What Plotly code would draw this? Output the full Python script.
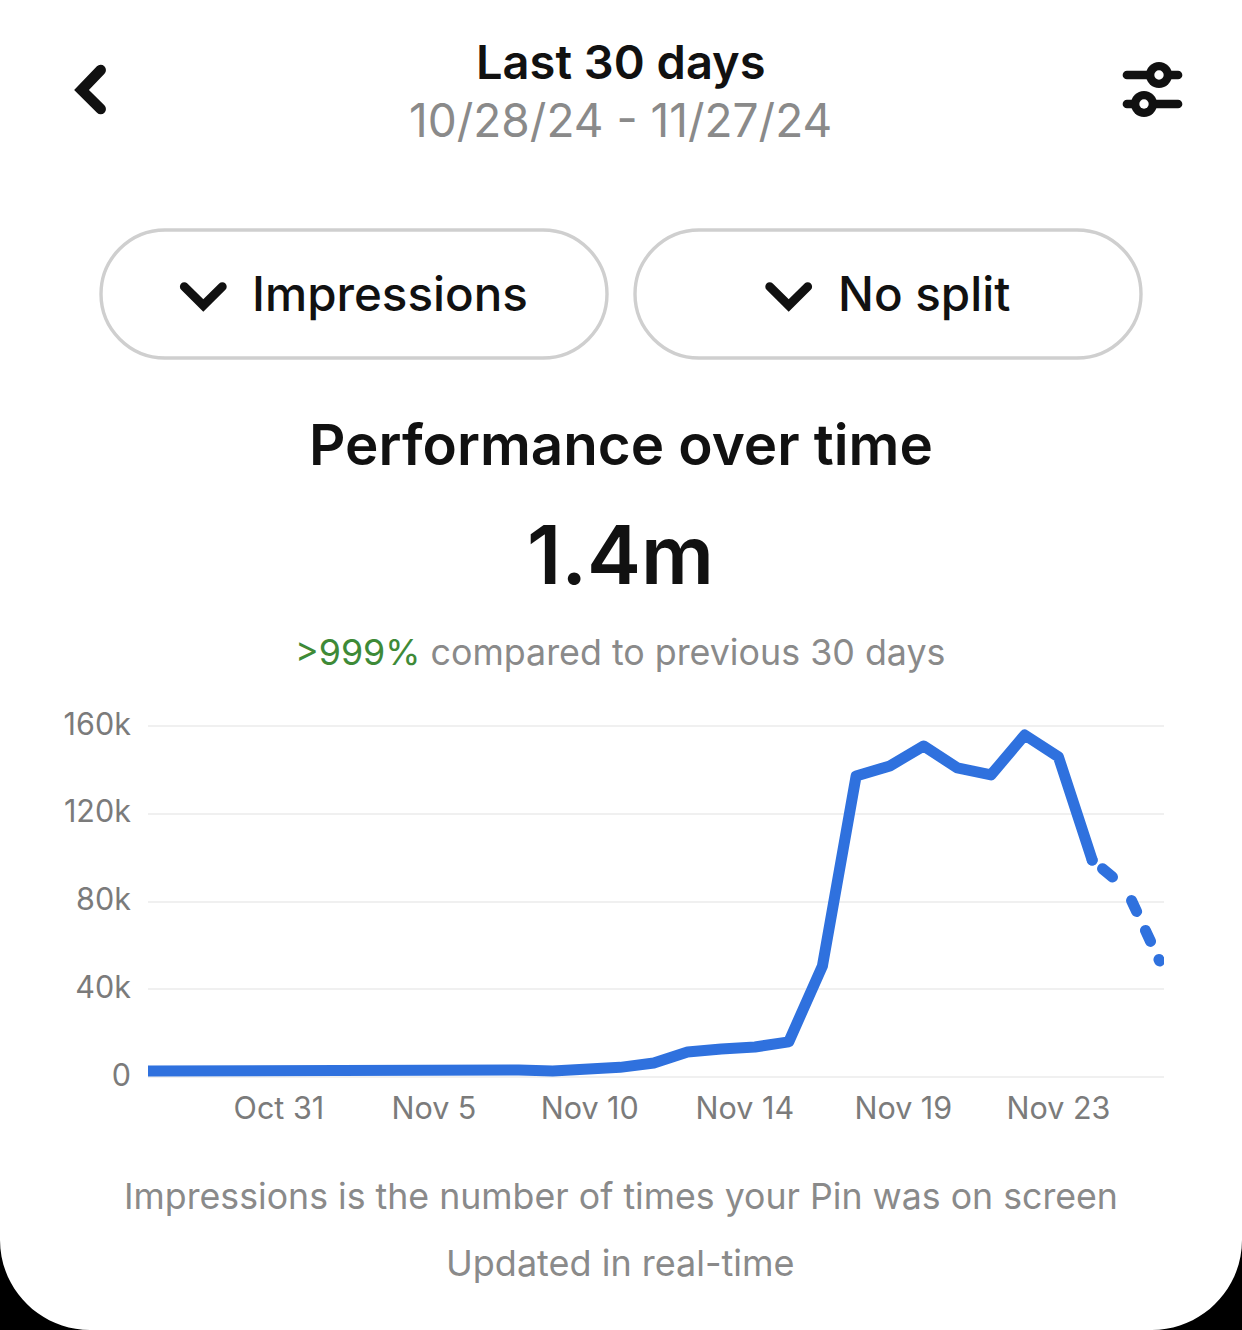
import plotly.graph_objects as go

W, H = 1242, 1330
days = list(range(31))
date_ticks = ["Oct 31", "Nov 5", "Nov 10", "Nov 14", "Nov 19", "Nov 23"]
date_tick_pos = [3.88, 8.48, 13.1, 17.7, 22.4, 27.0]
confirmed = [2700, 2800, 3000, 3500, 3500, 3400, 3400, 3700, 4100, 3900, 3650, 3200, 2750, 3300, 4400,
             6400, 11400, 12800, 13700, 16000, 50600, 137200, 141800, 150900, 140900, 137700, 155900,
             145900, 98900]
estimated = [98900, 86000, 52900]
y_ticks = [0, 40000, 80000, 120000, 160000]
y_labels = ["0", "40k", "80k", "120k", "160k"]

FONT = "Inter, 'Open Sans', sans-serif"
INK = "#111111"
GREY = "#8a8a8a"
BLUE = "#2f71de"


def px(x): return x / W
def py(y): return 1 - y / H


def path(points):
    return "M" + " L".join(f"{px(x)},{py(y)}" for x, y in points)


def pill(x0, y0, x1, y1):
    r = (y1 - y0) / 2
    k = r * 0.45
    s = f"M{px(x0+r)},{py(y0)} L{px(x1-r)},{py(y0)} "
    s += f"C{px(x1-k)},{py(y0)} {px(x1)},{py(y0+k)} {px(x1)},{py(y0+r)} "
    s += f"C{px(x1)},{py(y1-k)} {px(x1-k)},{py(y1)} {px(x1-r)},{py(y1)} "
    s += f"L{px(x0+r)},{py(y1)} "
    s += f"C{px(x0+k)},{py(y1)} {px(x0)},{py(y1-k)} {px(x0)},{py(y0+r)} "
    s += f"C{px(x0)},{py(y0+k)} {px(x0+k)},{py(y0)} {px(x0+r)},{py(y0)} Z"
    return s


def corner(xc, sign):
    r = 90
    k = r * 0.45
    return (f"M{px(xc)},{py(H-r)} C{px(xc)},{py(H-k)} {px(xc+sign*k)},{py(H)} {px(xc+sign*r)},{py(H)} "
            f"L{px(xc)},{py(H)} Z")


shapes = []
def stroke(points, width, color=INK):
    shapes.append(dict(type="path", xref="paper", yref="paper", path=path(points),
                       line=dict(color=color, width=width), layer="above"))

def circle(cx, cy, r, fill):
    shapes.append(dict(type="circle", xref="paper", yref="paper",
                       x0=px(cx - r), x1=px(cx + r), y0=py(cy + r), y1=py(cy - r),
                       fillcolor=fill, line=dict(width=0), layer="above"))

stroke([(100.7, 70), (81.5, 90), (100.7, 109)], 10.5)
stroke([(1127, 75), (1178, 75)], 8.7)
stroke([(1127, 104), (1178, 104)], 8.7)
circle(1159, 75, 13, INK)
circle(1159, 75, 4.7, "#ffffff")
circle(1144, 104, 13, INK)
circle(1144, 104, 4.7, "#ffffff")
for x0, x1, cx in [(101, 607, 203.3), (635, 1141, 788.7)]:
    shapes.append(dict(type="path", xref="paper", yref="paper", path=pill(x0, 230, x1, 358),
                       line=dict(color="#cfcfcf", width=3.4), layer="above"))
    stroke([(cx - 19, 286.7), (cx, 305.5), (cx + 19, 286.7)], 8.8)
for xc, sign in [(0, 1), (W, -1)]:
    shapes.append(dict(type="path", xref="paper", yref="paper", path=corner(xc, sign),
                       fillcolor="#000000", line=dict(width=0), layer="above"))


def text(s, x, y, size, color, weight=400):
    return dict(text=s, xref="paper", yref="paper", x=px(x), y=py(y), xanchor="center", yanchor="middle",
                showarrow=False, font=dict(family=FONT, size=size, color=color, weight=weight))


annotations = [
    text("Last 30 days", 621, 62, 47, INK, 600),
    text("10/28/24 - 11/27/24", 620, 119.5, 46, GREY),
    text("Impressions", 390, 293.5, 47.5, INK, 500),
    text("No split", 924, 293.5, 47.5, INK, 500),
    text("Performance over time", 621, 444.5, 56.5, INK, 600),
    text("1.4m", 620, 555, 81, INK, 600),
    text("<span style='color:#3e8a37'>&gt;999%</span> compared to previous 30 days", 620, 652, 35.8, GREY),
    text("Impressions is the number of times your Pin was on screen", 620.5, 1196, 35.7, GREY),
    text("Updated in real-time", 620.5, 1263, 36, GREY),
]

fig = go.Figure()
fig.add_trace(go.Scatter(x=days[:29], y=confirmed, mode="lines", showlegend=False, hoverinfo="skip",
                         line=dict(color=BLUE, width=11)))
fig.add_trace(go.Scatter(x=days[28:], y=estimated, mode="lines", showlegend=False, hoverinfo="skip",
                         line=dict(color=BLUE, width=11,
                                   dash="0px,13.5px,13px,31px,12px,21px,12px,20px,12px,20px")))
fig.update_layout(
    template="none",
    width=W, height=H, autosize=False,
    margin=dict(l=0, r=0, t=0, b=0, pad=0, autoexpand=False),
    paper_bgcolor="#ffffff", plot_bgcolor="#ffffff",
    font=dict(family=FONT),
    showlegend=False,
    shapes=shapes, annotations=annotations,
    xaxis=dict(domain=[px(148), px(1164)], range=[0, 30.13], tickmode="array", automargin=False,
               tickvals=date_tick_pos, ticktext=date_ticks, showgrid=False, zeroline=False,
               ticks="outside", ticklen=2, tickcolor="rgba(0,0,0,0)", showline=False,
               tickfont=dict(family=FONT, size=30.5, color="#7b7b7b")),
    yaxis=dict(domain=[py(1079), py(724)], range=[-912, 160912], tickmode="array", automargin=False,
               tickvals=y_ticks, ticktext=y_labels, showgrid=True, gridcolor="#f0f0f0", gridwidth=2,
               zeroline=False, ticks="outside", ticklen=10, tickcolor="rgba(0,0,0,0)", showline=False,
               ticklabelshift=-2,
               tickfont=dict(family=FONT, size=30.5, color="#7b7b7b")),
)

post = """
document.documentElement.style.margin='0';
document.body.style.margin='0';
document.body.style.overflow='hidden';
var st=document.createElement('style');
st.textContent='.js-line{stroke-linecap:round;stroke-linejoin:round;}.shapelayer path{stroke-linecap:round;stroke-linejoin:miter;}';
document.head.appendChild(st);
"""
fig.write_html("out.html", post_script=post, config={"displayModeBar": False})
